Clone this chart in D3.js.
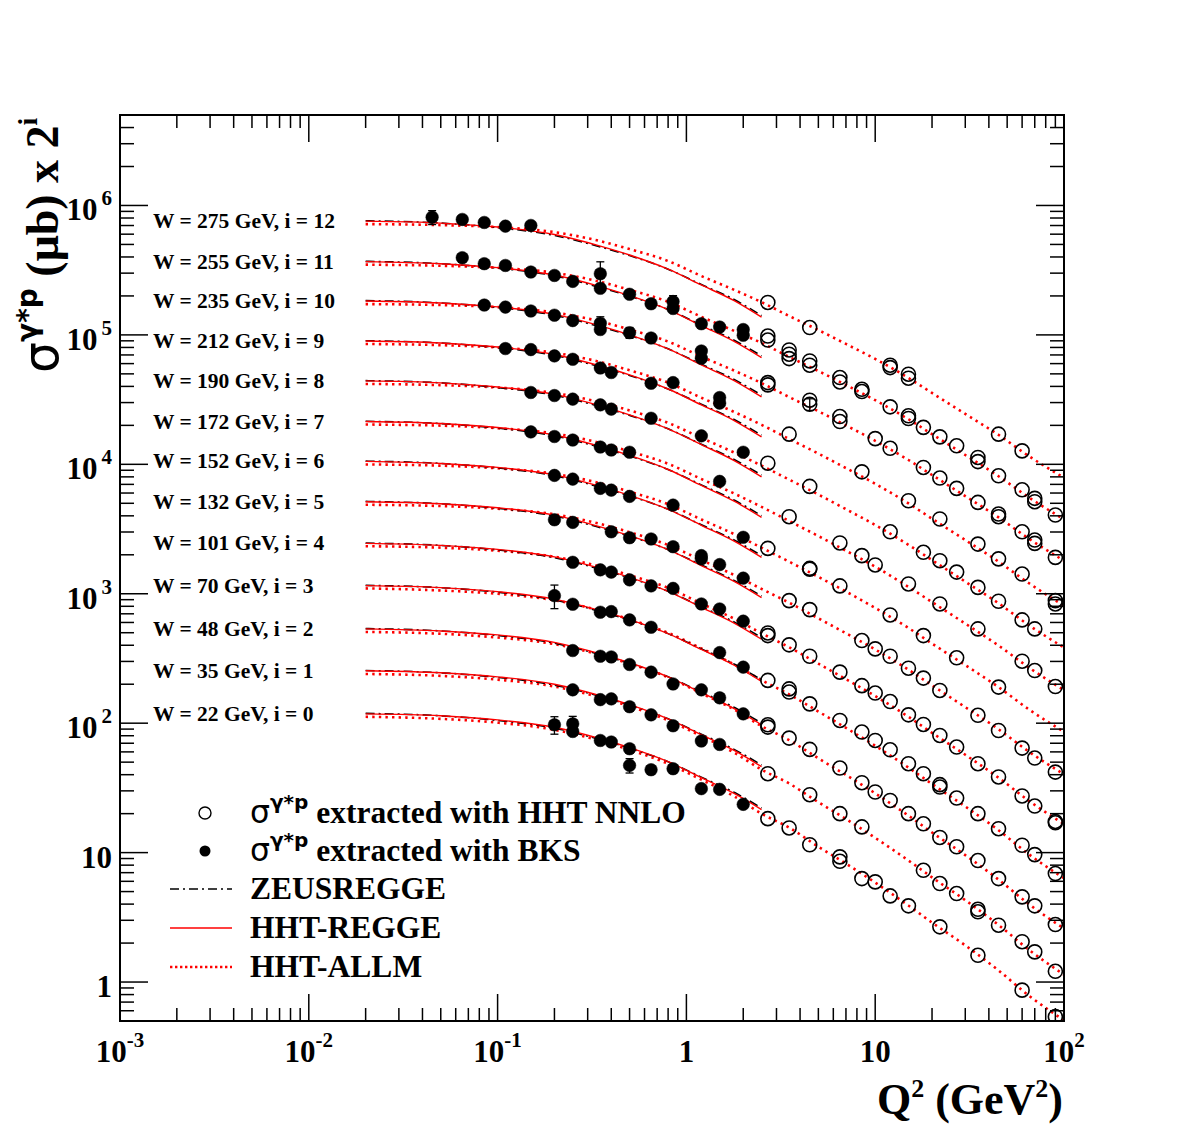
<!DOCTYPE html>
<html><head><meta charset="utf-8">
<script src="https://cdn.jsdelivr.net/npm/d3@7"></script>
<style>
body{margin:0;background:#fff;}
svg{display:block;}
text{font-family:"Liberation Serif","Times New Roman",serif;font-weight:bold;fill:#000;}
</style>
</head><body>
<svg id="c" width="1186" height="1139"></svg>
<script>
// ---------------- DATA ----------------
const W_GeV = [22, 35, 48, 70, 101, 132, 152, 172, 190, 212, 235, 255, 275]; // index = i
const xTickValues = [1e-3, 1e-2, 1e-1, 1, 10, 100];
const xTickLabels = [["10","-3"],["10","-2"],["10","-1"],["1",""],["10",""],["10","2"]];
const yTickValues = [1, 10, 100, 1e3, 1e4, 1e5, 1e6];
const yTickLabels = [["1",""],["10",""],["10","2"],["10","3"],["10","4"],["10","5"],["10","6"]];

// Q2 grids of the model curves
const reggeQ2 = [0.02, 0.05, 0.1, 0.2, 0.35, 0.5, 0.8, 1.2, 1.8, 2.5];
const allmQ2  = [0.02, 0.05, 0.1, 0.2, 0.35, 0.5, 0.8, 1.2, 1.8, 2.5, 3.5, 5, 7, 10, 15, 20, 30, 45, 65, 100];

// HHT-REGGE  (sigma x 2^i, ub), one row per i = 0..12
const hhtRegge = [
 [118, 114, 106, 93.0, 75.8, 64.7, 50.4, 37.9, 28.5, 21.5],
 [254, 245, 228, 200, 163, 139, 108, 81.5, 61.3, 46.1],
 [535, 516, 481, 421, 343, 293, 228, 172, 129, 97.2],
 [1155, 1115, 1038, 909, 740, 632, 492, 371, 279, 210],
 [2450, 2364, 2203, 1928, 1570, 1340, 1044, 786, 591, 445],
 [5140, 4960, 4620, 4050, 3290, 2810, 2190, 1650, 1240, 933],
 [10530, 10160, 9470, 8290, 6750, 5760, 4490, 3380, 2540, 1910],
 [21400, 20650, 19240, 16840, 13720, 11710, 9120, 6870, 5170, 3890],
 [44100, 42600, 39600, 34700, 28300, 24100, 18800, 14200, 10650, 8010],
 [89700, 86600, 80600, 70600, 57500, 49100, 38200, 28800, 21700, 16300],
 [183000, 176600, 164500, 144000, 117300, 100100, 78000, 58700, 44200, 33200],
 [368000, 355000, 331000, 290000, 236000, 201000, 157000, 118000, 88800, 66800],
 [757000, 731000, 681000, 596000, 485000, 414000, 322000, 243000, 183000, 137000]
];
// ZEUSREGGE
const zeusRegge = [
 [119, 114, 105, 91.6, 74.7, 64.1, 50.4, 38.3, 29.1, 22.1],
 [255, 245, 226, 197, 161, 138, 108, 82.3, 62.5, 47.5],
 [538, 516, 476, 415, 338, 290, 228, 174, 132, 100],
 [1161, 1115, 1028, 895, 729, 626, 492, 375, 285, 216],
 [2460, 2364, 2181, 1899, 1546, 1327, 1044, 794, 603, 458],
 [5170, 4960, 4570, 3990, 3240, 2780, 2190, 1670, 1260, 961],
 [10580, 10160, 9380, 8170, 6650, 5700, 4490, 3410, 2590, 1970],
 [21500, 20650, 19050, 16590, 13510, 11590, 9120, 6940, 5270, 4010],
 [44300, 42600, 39200, 34200, 27900, 23900, 18800, 14300, 10860, 8250],
 [90100, 86600, 79800, 69500, 56600, 48600, 38200, 29100, 22100, 16800],
 [184000, 176600, 162900, 141800, 115500, 99100, 78000, 59300, 45100, 34200],
 [370000, 355000, 328000, 286000, 232000, 199000, 157000, 119000, 90600, 68800],
 [761000, 731000, 674000, 587000, 478000, 410000, 322000, 245000, 187000, 141000]
];
// HHT-ALLM
const hhtAllm = [
 [112, 108, 101, 88.9, 73.2, 62.3, 48.6, 36.6, 27.1, 20.0, 15.6, 11.1, 8.23, 5.87, 3.90, 2.88, 1.92, 1.23, 0.788, 0.506],
 [240, 232, 217, 192, 158, 135, 105, 79.5, 58.9, 43.8, 34.2, 24.5, 18.2, 13.0, 8.69, 6.44, 4.29, 2.76, 1.78, 1.14],
 [507, 491, 459, 408, 337, 288, 226, 170, 127, 94.9, 74.0, 53.5, 39.8, 28.7, 19.3, 14.3, 9.56, 6.19, 4.01, 2.59],
 [1100, 1060, 999, 891, 740, 634, 499, 378, 283, 215, 167, 123, 91.9, 66.9, 45.4, 33.9, 22.7, 14.9, 9.73, 6.34],
 [2330, 2270, 2150, 1930, 1620, 1390, 1110, 840, 639, 495, 386, 288, 219, 162, 112, 84.2, 57.0, 37.9, 25.2, 16.6],
 [4870, 4760, 4540, 4110, 3460, 2990, 2380, 1820, 1390, 1090, 853, 646, 495, 371, 259, 196, 133, 89.8, 60.4, 40.3],
 [9980, 9760, 9320, 8450, 7130, 6150, 4920, 3750, 2880, 2270, 1770, 1350, 1040, 777, 544, 412, 281, 190, 128, 85.7],
 [20300, 19900, 19000, 17300, 14600, 12600, 10100, 7700, 5930, 4690, 3650, 2790, 2150, 1620, 1130, 862, 588, 398, 270, 180],
 [41800, 40900, 39200, 35600, 30100, 26100, 20900, 16000, 12300, 9770, 7620, 5840, 4500, 3400, 2390, 1820, 1240, 844, 573, 384],
 [85100, 83300, 80000, 72800, 61700, 53300, 42800, 32700, 25300, 20200, 15700, 12100, 9350, 7080, 4990, 3800, 2600, 1770, 1210, 809],
 [173000, 170000, 164000, 149000, 127000, 110000, 88800, 67900, 52800, 42400, 33100, 25700, 20000, 15200, 10800, 8270, 5680, 3890, 2670, 1800],
 [349000, 342000, 330000, 302000, 257000, 223000, 180000, 138000, 107000, 86600, 67600, 52600, 41000, 31300, 22300, 17100, 11800, 8090, 5560, 3760],
 [718000, 705000, 680000, 622000, 530000, 460000, 372000, 285000, 222000, 179000, 140000, 109000, 85100, 65200, 46500, 35600, 24500, 16900, 11600, 7870]
];

// sigma extracted with BKS: [Q2, sigma x 2^i, error]
const bksPoints = [
 [[0.2,97.2,15],[0.25,98.9,14],[0.25,86.3],[0.35,73.5],[0.4,71.5],[0.5,63.5],[0.5,47.2,6],[0.65,43.7],[0.85,44.5],[1.2,31.2],[1.5,30.8],[2.0,23.6]],
 [[0.25,181],[0.35,152],[0.4,154],[0.5,134],[0.65,116],[0.85,95.5],[1.2,72.8],[1.5,68.5]],
 [[0.25,364],[0.35,329],[0.4,325],[0.5,284],[0.65,248],[0.85,201],[1.2,181],[1.5,157],[2.0,118]],
 [[0.2,967,200],[0.25,830],[0.35,720],[0.4,728],[0.5,628],[0.65,551],[1.5,351],[2.0,271]],
 [[0.25,1750],[0.35,1530],[0.4,1470],[0.5,1280],[0.65,1150],[0.85,1100],[1.2,834],[1.5,763],[2.0,614]],
 [[0.2,3730],[0.25,3560],[0.4,3010],[0.5,2710],[0.65,2650],[0.85,2310],[1.2,1970],[1.2,1860],[1.5,1680],[2.0,1320]],
 [[0.2,8210],[0.25,7690],[0.35,6520],[0.4,6320],[0.5,5650],[0.85,4840],[2.0,2730]],
 [[0.15,17800],[0.2,16400],[0.25,15400],[0.35,13600],[0.4,12900],[0.5,12400],[1.5,7380]],
 [[0.15,35900],[0.2,34000],[0.25,31900],[0.35,28800],[0.4,26700],[0.65,22700],[1.2,16600],[2.0,12400]],
 [[0.11,78400],[0.15,77000],[0.2,68800],[0.25,64800],[0.35,55500],[0.4,51200],[0.65,42300],[0.85,42800],[1.5,32800],[1.5,29700]],
 [[0.085,170000],[0.11,164000],[0.15,153000],[0.2,142000],[0.25,129000],[0.35,123000,15000],[0.35,110000],[0.5,104000,10000],[0.65,94600],[1.2,75100],[1.2,66000]],
 [[0.065,395000],[0.085,355000],[0.11,344000],[0.15,306000],[0.2,288000],[0.25,259000],[0.35,297000,70000],[0.35,229000],[0.5,206000],[0.65,174000],[0.85,181000,20000],[0.85,160000],[1.2,122000],[1.5,115000],[2.0,110000],[2.0,99300]],
 [[0.045,812000,100000],[0.065,780000],[0.085,739000],[0.11,692000],[0.15,701000]]
];

// sigma extracted with HHT NNLO: [Q2, sigma x 2^i, error]
const hhtPoints = [
 [[2.7,18.3],[3.5,15.5],[4.5,11.5],[6.5,9.27],[6.5,8.57],[8.5,6.30],[10,5.94],[12,4.63],[15,3.88],[22,2.67],[35,1.61],[60,0.866],[90,0.540]],
 [[2.7,40.7],[4.5,28.0],[6.5,20.0],[8.5,15.8],[18,7.30],[22,5.77],[27,4.83],[35,3.65],[35,3.49],[45,2.75],[60,2.05],[70,1.71],[90,1.21]],
 [[2.7,97.2],[2.7,93.3],[3.5,76.7],[4.5,62.7],[6.5,45.0],[8.5,34.7],[10,29.4],[12,25.3],[15,20.0],[18,16.7],[22,13.1],[27,11.1],[35,8.68],[45,6.30],[60,4.55],[70,3.88],[90,2.78]],
 [[2.7,214],[3.5,184],[3.5,174],[4.5,141],[6.5,105],[8.5,85.4],[10,73.5],[12,62.3],[15,48.6],[18,40.7],[22,33.5],[22,32.1],[27,26.4],[35,20.0],[45,15.3],[60,11.4],[70,9.65],[90,6.89]],
 [[2.7,498],[2.7,475],[3.5,403],[4.5,329],[6.5,248],[8.5,195],[10,171],[12,147],[15,116],[18,97.7],[22,80.4],[27,65.4],[35,48.6],[45,38.4],[60,27.4],[70,22.9],[90,17.4],[90,17.0]],
 [[3.5,885],[4.5,754],[8.5,435],[10,375],[12,329],[15,266],[18,223],[22,179],[35,115],[45,87.8],[60,64.2],[70,53.8],[90,41.9]],
 [[2.7,2240],[4.5,1570],[4.5,1550],[6.5,1150],[12,686],[18,475],[27,320],[45,190]],
 [[3.5,3940],[6.5,2470],[8.5,1970],[10,1670],[15,1190],[22,834],[35,535],[60,301],[70,255],[90,192]],
 [[2.7,10200],[4.5,6750],[12,3010],[18,2090],[22,1800],[27,1470],[35,1120],[45,875],[60,628],[70,535]],
 [[3.5,17100],[8.5,8750],[15,5230],[22,3780],[35,2420],[45,1860],[60,1420],[90,885],[90,834]],
 [[2.7,42800],[2.7,41100],[4.5,31300],[4.5,29100,3000],[6.5,23400],[6.5,21400],[10,15800],[12,13300],[18,9460],[22,7830],[27,6520],[35,5080],[45,4130],[45,3940],[60,3010],[70,2600],[70,2450],[90,1910]],
 [[2.7,98000],[2.7,91300],[3.5,76500],[3.5,70900],[3.5,65600],[4.5,62900],[4.5,58300],[6.5,46800],[6.5,43300],[8.5,38000],[8.5,36500],[12,27800],[15,23700],[15,22600],[18,19300],[22,16300],[27,13900],[35,11300],[35,10500],[45,8150],[60,6360],[70,5460],[70,5140],[90,4060]],
 [[2.7,178000],[4.5,114000],[12,58300],[12,55900],[15,49700],[15,46300],[45,17100],[60,12700]]
];

const legendLabels = ["extracted with HHT NNLO", "extracted with BKS", "ZEUSREGGE", "HHT-REGGE", "HHT-ALLM"];

// ---------------- CHART ----------------
const svg = d3.select("#c");
const X0 = 120, X1 = 1064, Y0 = 115, Y1 = 1021;
const x = d3.scaleLog().domain([1e-3, 100]).range([X0, X1]);
const y = d3.scaleLog().domain([0.5, 5e6]).range([Y1, Y0]);

svg.append("defs").append("clipPath").attr("id","plotclip")
  .append("rect").attr("x",X0).attr("y",Y0).attr("width",X1-X0).attr("height",Y1-Y0);

const plot = svg.append("g").attr("clip-path","url(#plotclip)");

const line = d3.line().x(d => x(d[0])).y(d => y(d[1])).curve(d3.curveMonotoneX);

// HHT-ALLM dotted
hhtAllm.forEach(vals => {
  plot.append("path").datum(allmQ2.map((q,k)=>[q, vals[k]]))
    .attr("d", line).attr("fill","none").attr("stroke","#ff0000")
    .attr("stroke-width",2.6).attr("stroke-dasharray","2.4,4.2");
});
// ZEUSREGGE dash-dot
zeusRegge.forEach(vals => {
  plot.append("path").datum(reggeQ2.map((q,k)=>[q, vals[k]]))
    .attr("d", line).attr("fill","none").attr("stroke","#000")
    .attr("stroke-width",1.6).attr("stroke-dasharray","9,4,2,4");
});
// HHT-REGGE solid
hhtRegge.forEach(vals => {
  plot.append("path").datum(reggeQ2.map((q,k)=>[q, vals[k]]))
    .attr("d", line).attr("fill","none").attr("stroke","#ff0000")
    .attr("stroke-width",1.4);
});

// error bars + markers
function drawPoints(sets, filled) {
  sets.forEach(pts => {
    pts.forEach(p => {
      const cx = x(p[0]), cy = y(p[1]);
      if (p[2]) {
        const yt = y(p[1] + p[2]), yb = y(Math.max(p[1] - p[2], 1e-3));
        plot.append("line").attr("x1",cx).attr("x2",cx).attr("y1",yt).attr("y2",yb)
          .attr("stroke","#000").attr("stroke-width",1.3);
        [yt, yb].forEach(yy => plot.append("line").attr("x1",cx-4).attr("x2",cx+4)
          .attr("y1",yy).attr("y2",yy).attr("stroke","#000").attr("stroke-width",1.3));
      }
      plot.append("circle").attr("cx",cx).attr("cy",cy)
        .attr("r", filled ? 6.3 : 7)
        .attr("fill", filled ? "#000" : "none")
        .attr("stroke","#000").attr("stroke-width", filled ? 0.5 : 1.6);
    });
  });
}
drawPoints(hhtPoints, false);
drawPoints(bksPoints, true);

// frame
svg.append("rect").attr("x",X0).attr("y",Y0).attr("width",X1-X0).attr("height",Y1-Y0)
  .attr("fill","none").attr("stroke","#000").attr("stroke-width",2);

// ticks
const axes = svg.append("g").attr("stroke","#000").attr("stroke-width",1.5);
const xMinor = [], yMinor = [];
for (let d = -3; d < 2; d++) for (let m = 2; m <= 9; m++) xMinor.push(m * Math.pow(10, d));
for (let d = -1; d <= 6; d++) for (let m = 1; m <= 9; m++) {
  const v = m * Math.pow(10, d);
  if (v >= 0.5 && v <= 5e6 && m !== 1) yMinor.push(v);
}
function xTick(v, len) {
  axes.append("line").attr("x1",x(v)).attr("x2",x(v)).attr("y1",Y1).attr("y2",Y1-len);
  axes.append("line").attr("x1",x(v)).attr("x2",x(v)).attr("y1",Y0).attr("y2",Y0+len);
}
function yTick(v, len) {
  axes.append("line").attr("x1",X0).attr("x2",X0+len).attr("y1",y(v)).attr("y2",y(v));
  axes.append("line").attr("x1",X1).attr("x2",X1-len).attr("y1",y(v)).attr("y2",y(v));
}
xTickValues.forEach(v => xTick(v, 27));
xMinor.forEach(v => xTick(v, 13));
yTickValues.forEach(v => yTick(v, 28));
yMinor.forEach(v => yTick(v, 14));

// tick labels
xTickValues.forEach((v, k) => {
  const t = svg.append("text").attr("x", x(v)).attr("y", 1062).attr("text-anchor","middle")
    .style("font-size","31px");
  t.append("tspan").text(xTickLabels[k][0]);
  if (xTickLabels[k][1]) t.append("tspan").attr("dy",-15).style("font-size","21px").text(xTickLabels[k][1]);
});
yTickValues.forEach((v, k) => {
  const t = svg.append("text").attr("x", 112).attr("y", y(v) + 15).attr("text-anchor","end")
    .style("font-size","31px");
  t.append("tspan").text(yTickLabels[k][0]);
  if (yTickLabels[k][1]) t.append("tspan").attr("dx",4).attr("dy",-15).style("font-size","21px").text(yTickLabels[k][1]);
});

// W labels (placed at the start of each HHT-REGGE curve)
W_GeV.forEach((w, i) => {
  svg.append("text").attr("x",153).attr("y", y(hhtRegge[i][0]) + 7)
    .style("font-size","21.5px").text(`W = ${w} GeV, i = ${i}`);
});

// axis titles
const xt = svg.append("text").attr("x",1063).attr("y",1114).attr("text-anchor","end").style("font-size","44px");
xt.append("tspan").text("Q");
xt.append("tspan").attr("dy",-17).style("font-size","26px").text("2");
xt.append("tspan").attr("dy",17).text(" (GeV");
xt.append("tspan").attr("dy",-17).style("font-size","26px").text("2");
xt.append("tspan").attr("dy",17).text(")");

const yt = svg.append("text").attr("transform","translate(58,373) rotate(-90)").style("font-size","46px");
yt.append("tspan").style("font-family","'DejaVu Sans',sans-serif").style("font-weight","normal").style("font-size","49px").text("σ");
yt.append("tspan").attr("dy",-21).style("font-family","'DejaVu Sans',sans-serif").style("font-size","28px").text("γ*p");
yt.append("tspan").attr("dy",21).text(" (μb) x 2");
yt.append("tspan").attr("dy",-21).style("font-size","28px").text("i");

// legend
const LX = 250;
const legY = [813, 851, 889, 928, 967];
const lg = svg.append("g");
lg.append("circle").attr("cx",205).attr("cy",legY[0]).attr("r",6).attr("fill","none").attr("stroke","#000").attr("stroke-width",1.4);
lg.append("circle").attr("cx",205).attr("cy",legY[1]).attr("r",5.5).attr("fill","#000");
lg.append("line").attr("x1",170).attr("x2",232).attr("y1",legY[2]).attr("y2",legY[2])
  .attr("stroke","#000").attr("stroke-width",1.4).attr("stroke-dasharray","9,4,2,4");
lg.append("line").attr("x1",170).attr("x2",232).attr("y1",legY[3]).attr("y2",legY[3])
  .attr("stroke","#ff0000").attr("stroke-width",1.6);
lg.append("line").attr("x1",170).attr("x2",232).attr("y1",legY[4]).attr("y2",legY[4])
  .attr("stroke","#ff0000").attr("stroke-width",2.6).attr("stroke-dasharray","2.4,2.6");
legendLabels.forEach((lab, k) => {
  const t = lg.append("text").attr("x",LX).attr("y",legY[k] + 10).style("font-size","31.5px");
  if (k < 2) {
    t.append("tspan").style("font-family","'DejaVu Sans',sans-serif").style("font-weight","normal").text("σ");
    t.append("tspan").attr("dy",-14).style("font-family","'DejaVu Sans',sans-serif").style("font-size","20px").text("γ*p");
    t.append("tspan").attr("dy",14).text(" " + lab);
  } else {
    t.text(lab);
  }
});
</script>
</body></html>
